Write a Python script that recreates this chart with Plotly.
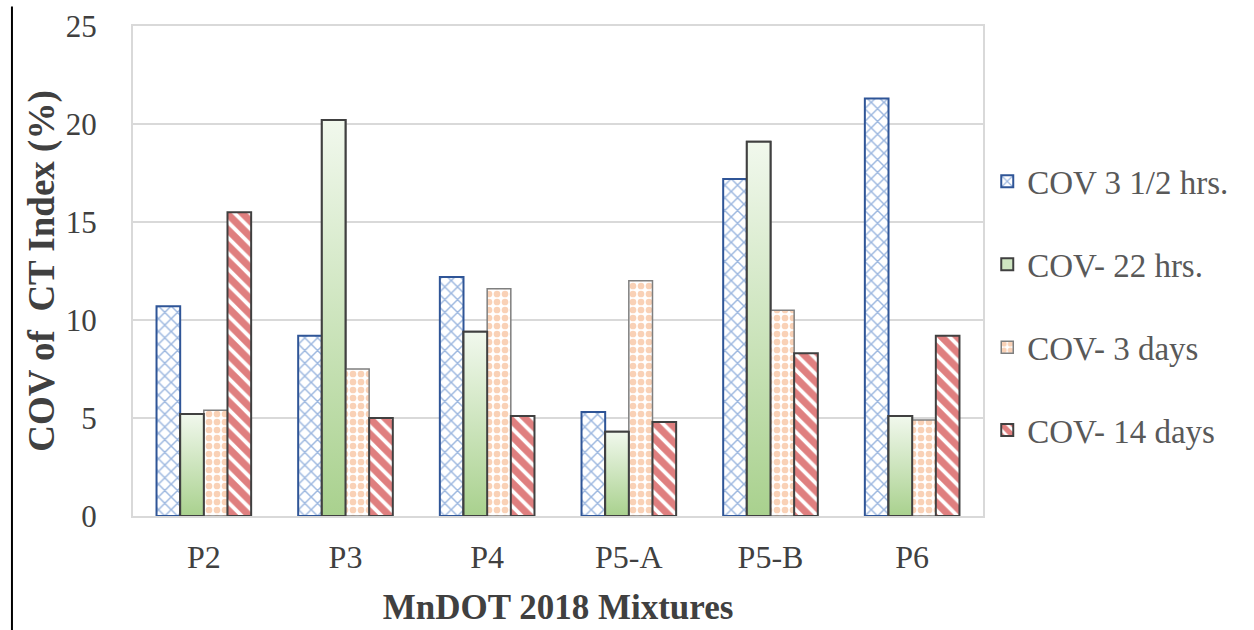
import plotly.graph_objects as go

# Mixture categories and COV values (%) at each conditioning time
mixtures = ["P2", "P3", "P4", "P5-A", "P5-B", "P6"]
cov_3_5_hrs = [10.7, 9.2, 12.2, 5.3, 17.2, 21.3]
cov_22_hrs = [5.2, 20.2, 9.4, 4.3, 19.1, 5.1]
cov_3_days = [5.4, 7.5, 11.6, 12.0, 10.5, 4.9]
cov_14_days = [15.5, 5.0, 5.1, 4.8, 8.3, 9.2]
y_ticks = [0, 5, 10, 15, 20, 25]

FONT = "Liberation Serif"
TEXT = "#404040"
GRID = "#d9d9d9"
W = 0.167  # bar width in category units

xpos = list(range(len(mixtures)))
fig = go.Figure()

series = [
    ("COV 3 1/2 hrs.", cov_3_5_hrs,
     dict(color="white", line=dict(color="#2f5597", width=2),
          pattern=dict(shape="x", fgcolor="#3a6fc0", bgcolor="white", size=9, solidity=0.3))),
    ("COV- 22 hrs.", cov_22_hrs,
     dict(color="#cfe6c2", line=dict(color="#404040", width=2))),
    ("COV- 3 days", cov_3_days,
     dict(color="white", line=dict(color="#7f7f7f", width=1.5),
          pattern=dict(shape=".", fgcolor="#f4a46e", bgcolor="white", size=8, solidity=0.55))),
    ("COV- 14 days", cov_14_days,
     dict(color="white", line=dict(color="#404040", width=2),
          pattern=dict(shape="\\", fgcolor="#c00000", bgcolor="white", size=11, solidity=0.65))),
]

for k, (name, vals, marker) in enumerate(series):
    fig.add_trace(go.Bar(
        x=xpos, y=vals, name=name, width=W, offset=(k - 2) * W,
        marker=marker, legendgroup=name,
    ))

# Vertical gradient fill for the 22-hour bars, one polygon per bar
for i, v in zip(xpos, cov_22_hrs):
    x0, x1 = i - W, i
    fig.add_trace(go.Scatter(
        x=[x0, x0, x1, x1, x0], y=[0, v, v, 0, 0],
        mode="lines", fill="toself",
        fillgradient=dict(type="vertical",
                          colorscale=[[0, "#a9d18e"], [1, "#f1f8ed"]]),
        line=dict(color="#404040", width=2),
        showlegend=False, hoverinfo="skip",
    ))

fig.update_layout(
    width=1254, height=630,
    margin=dict(l=133, r=271, t=26, b=114),
    paper_bgcolor="white", plot_bgcolor="white",
    font=dict(family=FONT, color=TEXT),
    barmode="group",
    showlegend=True,
    legend=dict(
        x=1.005, xanchor="left", y=0.74, yanchor="top",
        font=dict(family=FONT, size=33, color="#595959"),
        traceorder="grouped", tracegroupgap=37,
        bgcolor="rgba(0,0,0,0)",
    ),
    xaxis=dict(
        range=[-0.5, 5.5], tickvals=xpos, ticktext=mixtures,
        showline=True, linecolor=GRID, linewidth=2, mirror=True,
        showgrid=False, zeroline=False, ticks="", automargin=False,
        tickfont=dict(family=FONT, size=32, color=TEXT),
        ticklabelstandoff=12,
        title=dict(text="<b>MnDOT 2018 Mixtures</b>", standoff=20,
                   font=dict(family=FONT, size=35, color=TEXT)),
    ),
    yaxis=dict(
        range=[0, 25], tickvals=y_ticks,
        showline=True, linecolor=GRID, linewidth=2, mirror=True,
        showgrid=True, gridcolor=GRID, gridwidth=2, zeroline=False, ticks="",
        automargin=False,
        tickfont=dict(family=FONT, size=31, color=TEXT),
        ticklabelstandoff=28,
        title=dict(text="<b>COV of  CT Index (%)</b>", standoff=0,
                   font=dict(family=FONT, size=37, color=TEXT)),
    ),
    shapes=[dict(type="line", xref="paper", yref="paper",
                 x0=-0.1424, x1=-0.1424, y0=-0.233, y1=1.04,
                 line=dict(color="black", width=2))],
)

fig.write_html("out.html")
